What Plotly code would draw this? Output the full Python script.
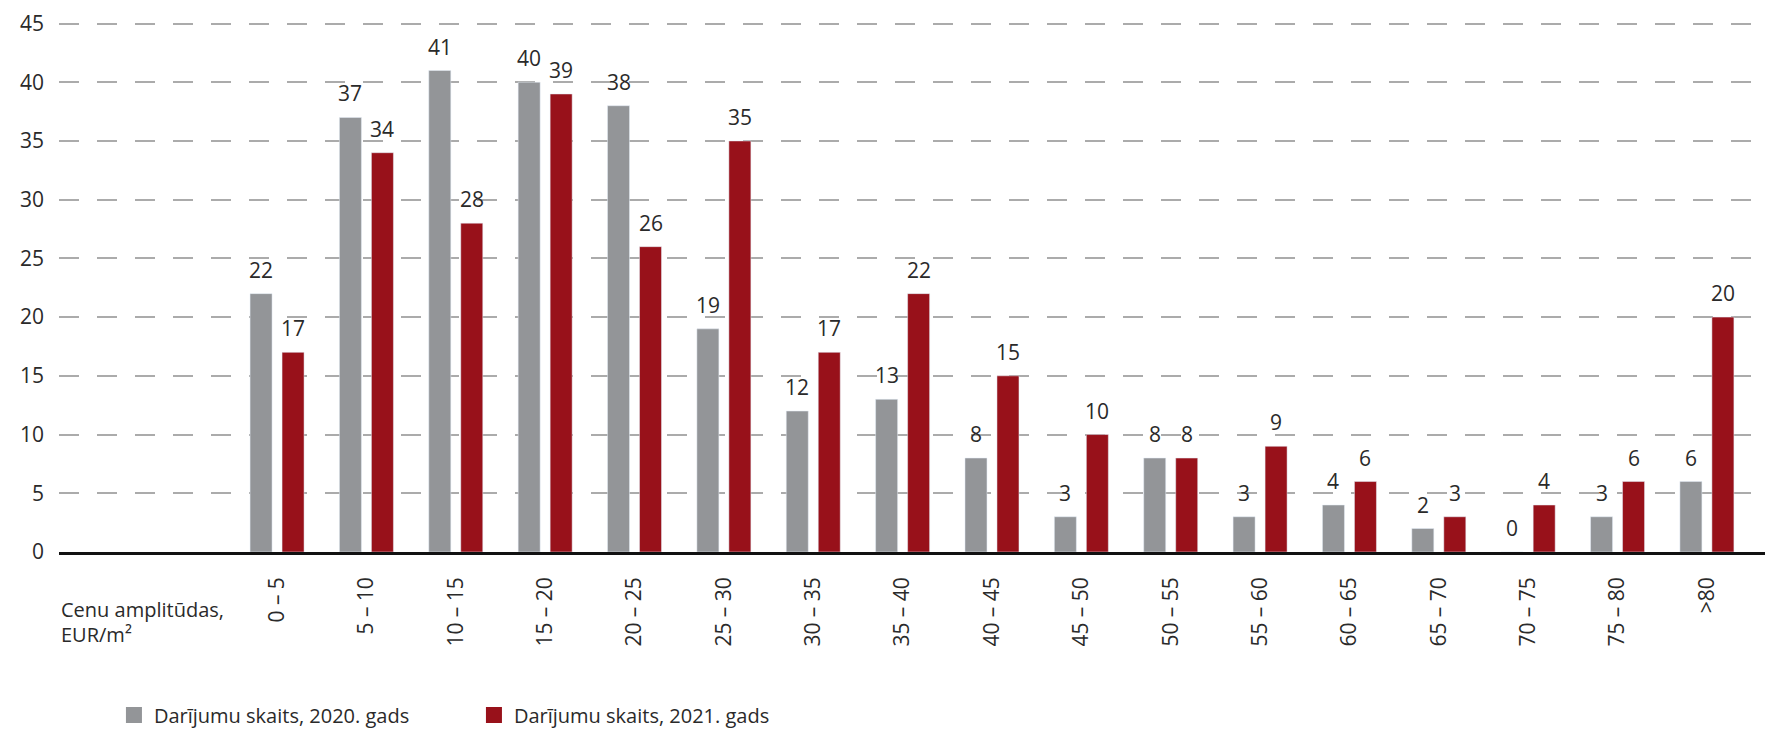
import plotly.graph_objects as go

categories = ["0 – 5", "5 – 10", "10 – 15", "15 – 20", "20 – 25", "25 – 30", "30 – 35",
              "35 – 40", "40 – 45", "45 – 50", "50 – 55", "55 – 60", "60 – 65", "65 – 70",
              "70 – 75", "75 – 80", ">80"]
deals_2020 = [22, 37, 41, 40, 38, 19, 12, 13, 8, 3, 8, 3, 4, 2, 0, 3, 6]
deals_2021 = [17, 34, 28, 39, 26, 35, 17, 22, 15, 10, 8, 9, 6, 3, 4, 6, 20]
name_2020 = "Darījumu skaits, 2020. gads"
name_2021 = "Darījumu skaits, 2021. gads"
axis_title_lines = ["Cenu amplitūdas,", "EUR/m²"]
y_ticks = [0, 5, 10, 15, 20, 25, 30, 35, 40, 45]

GRAY = "#939598"
RED = "#98111a"
FONT = "Open Sans"
TXT = "#2a2a2a"
FS = 21

W, H = 1757, 720
ML, MR, MT, MB = 51, 0, 12, 176
XR = [-2.44, 16.65]
BARGAP, GROUPGAP = 0.284, 0.3125

fig = go.Figure()
fig.add_trace(go.Bar(x=categories, y=deals_2020, name=name_2020, marker_color=GRAY,
                     showlegend=False))
fig.add_trace(go.Bar(x=categories, y=deals_2021, name=name_2021, marker_color=RED,
                     showlegend=False))
# legend entries with larger square symbols
fig.add_trace(go.Scatter(x=[None], y=[None], mode="markers", name=name_2020,
                         marker=dict(symbol="square", size=20, color=GRAY)))
fig.add_trace(go.Scatter(x=[None], y=[None], mode="markers", name=name_2021,
                         marker=dict(symbol="square", size=20, color=RED)))

# value labels above bars
pw = W - ML - MR
px_per_unit = pw / (XR[1] - XR[0])
slot = px_per_unit * (1 - BARGAP) / 2
for vals, sign in ((deals_2020, -1), (deals_2021, 1)):
    for c, v in zip(categories, vals):
        fig.add_annotation(x=c, y=v, text=str(v), showarrow=False, xanchor="center",
                           yanchor="bottom", xshift=sign * slot / 2, yshift=8,
                           font=dict(family=FONT, size=FS, color=TXT))

for line, yy in zip(axis_title_lines, (-0.109, -0.156)):
    fig.add_annotation(xref="paper", yref="paper", x=0.0, y=yy, xanchor="left",
                       yanchor="middle", align="left", showarrow=False, text=line,
                       font=dict(family=FONT, size=FS - 1, color=TXT))

fig.update_layout(
    width=W, height=H,
    margin=dict(l=ML, r=MR, t=MT, b=MB),
    paper_bgcolor="white", plot_bgcolor="white",
    barmode="group", bargap=BARGAP, bargroupgap=GROUPGAP,
    font=dict(family=FONT, size=FS, color=TXT),
    legend=dict(orientation="h", xref="container", yref="container",
                x=0.0603, y=0.018, xanchor="left", yanchor="middle",
                font=dict(family=FONT, size=20, color=TXT), entrywidth=315,
                itemclick=False),
    xaxis=dict(type="category", range=XR, showgrid=False, ticks="",
               tickangle=-90, showline=True, linecolor="#111111", linewidth=2.5,
               tickfont=dict(family=FONT, size=FS, color=TXT), ticklabelstandoff=14,
               zeroline=False, fixedrange=True),
    yaxis=dict(range=[0, 45.3], tickvals=y_ticks, showgrid=True, gridcolor="#ababab",
               gridwidth=2, griddash="20px,18px", zeroline=False, ticks="",
               showline=False, tickfont=dict(family=FONT, size=FS, color=TXT),
               ticklabelstandoff=14, fixedrange=True),
)

fig.write_html("out.html")
